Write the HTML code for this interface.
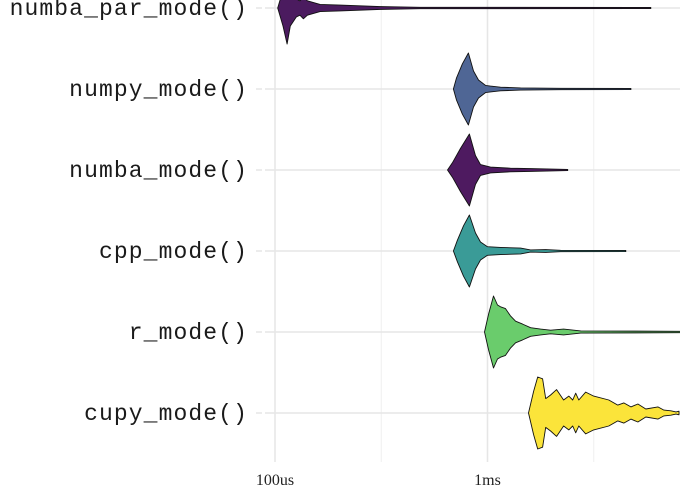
<!DOCTYPE html>
<html><head><meta charset="utf-8"><style>
body{margin:0;background:#fff;}
svg{display:block}
.lab{font-family:"Liberation Mono","DejaVu Sans Mono",monospace;font-size:23px;letter-spacing:1.1px;fill:#1a1a1a}
.tick{font-family:"Liberation Serif",serif;font-size:16px;fill:#222}
</style></head><body>
<svg id="chart" width="680" height="500" xmlns="http://www.w3.org/2000/svg"></svg>
<script>
const categories=["numba_par_mode()","numpy_mode()","numba_mode()","cpp_mode()","r_mode()","cupy_mode()"];
const colors=["#4b1b5f","#4f6695","#4e1a60","#3a9b97","#6acc6c","#fbe43a"];
const timesNumbaPar=[103,109,114,118,126,131,136,142,163,203,313,483,5870];
const densNumbaPar=[0,0.5,1,0.5,0.25,0.2,0.3,0.2,0.1,0.08,0.04,0.02,0.01];
const timesNumpy=[691,714,762,813,859,907,979,1033,1151,1432,2208,4730];
const densNumpy=[0,0.3,0.7,1,0.5,0.25,0.1,0.08,0.05,0.03,0.02,0.01];
const timesNumba=[648,684,746,822,878,927,1033,1282,1596,2384];
const densNumba=[0,0.2,0.6,1,0.4,0.15,0.08,0.05,0.04,0.01];
const timesCpp=[691,722,771,822,878,927,1000,1151,1432,1596,1879,2208,4477];
const densCpp=[0,0.3,0.7,1,0.5,0.25,0.12,0.1,0.08,0.03,0.04,0.02,0.01];
const timesR=[968,1012,1067,1114,1151,1216,1282,1356,1462,1596,1778,1982,2282,2748,8128];
const densR=[0,0.5,1,0.75,0.7,0.65,0.45,0.3,0.22,0.12,0.08,0.05,0.08,0.03,0.02];
const timesCupy=[1560,1648,1722,1817,1879,1982,2115,2282,2412,2518,2601,2688,2899,3162,3722,4102,4381,4730,5101,5560,6339,6764,7296,7706,7962];
const densCupy=[0,0.6,1,0.95,0.4,0.5,0.65,0.36,0.47,0.36,0.55,0.36,0.58,0.47,0.36,0.22,0.28,0.17,0.25,0.11,0.17,0.08,0.06,0.03,0.05];
const seriesTimes=[timesNumbaPar,timesNumpy,timesNumba,timesCpp,timesR,timesCupy];
const seriesDens=[densNumbaPar,densNumpy,densNumba,densCpp,densR,densCupy];
const majorTicks=[100,1000];const majorLabels=["100us","1ms"];
const minorTicks=[316.2,3162];

const svg=document.getElementById('chart');const NS="http://www.w3.org/2000/svg";
const X0=275,DEC=212.5,ROW0=8,ROWH=81,MAXW=36;
const xs=t=>X0+(Math.log10(t)-2)*DEC;
const ys=i=>ROW0+i*ROWH;
function mk(tag,attrs){const e=document.createElementNS(NS,tag);for(const k in attrs)e.setAttribute(k,attrs[k]);svg.appendChild(e);return e;}
minorTicks.forEach(t=>{const l=mk('line',{x1:xs(t),x2:xs(t),y1:0,y2:462,stroke:'#efefef','stroke-width':1});

});
majorTicks.forEach((t,i)=>{const l=mk('line',{x1:xs(t),x2:xs(t),y1:0,y2:462,stroke:'#e6e6e6','stroke-width':1.5});


const tx=mk('text',{x:xs(t),y:485,'text-anchor':'middle',class:'tick'});tx.textContent=majorLabels[i];

});
categories.forEach((c,i)=>{const l=mk('line',{x1:265,x2:680,y1:ys(i),y2:ys(i),stroke:'#e6e6e6','stroke-width':1.5});


const tk=mk('line',{x1:256,x2:262,y1:ys(i),y2:ys(i),stroke:'#e6e6e6','stroke-width':1.5});


const tx=mk('text',{x:248,y:ys(i)+7,'text-anchor':'end',class:'lab'});tx.textContent=c;

});
categories.forEach((c,i)=>{const T=seriesTimes[i],D=seriesDens[i],cy=ys(i);
let top=T.map((t,j)=>[xs(t),cy-Math.max(D[j]*MAXW,0.6)]);
let bot=T.map((t,j)=>[xs(t),cy+Math.max(D[j]*MAXW,0.6)]).reverse();
top[0][1]=cy;bot[bot.length-1][1]=cy;
const pts=top.concat(bot).map(p=>p[0].toFixed(1)+','+p[1].toFixed(1)).join(' ');
const p=mk('polygon',{points:pts,fill:colors[i],stroke:'#111','stroke-width':0.9,'stroke-linejoin':'round'});

});
</script>
</body></html>
